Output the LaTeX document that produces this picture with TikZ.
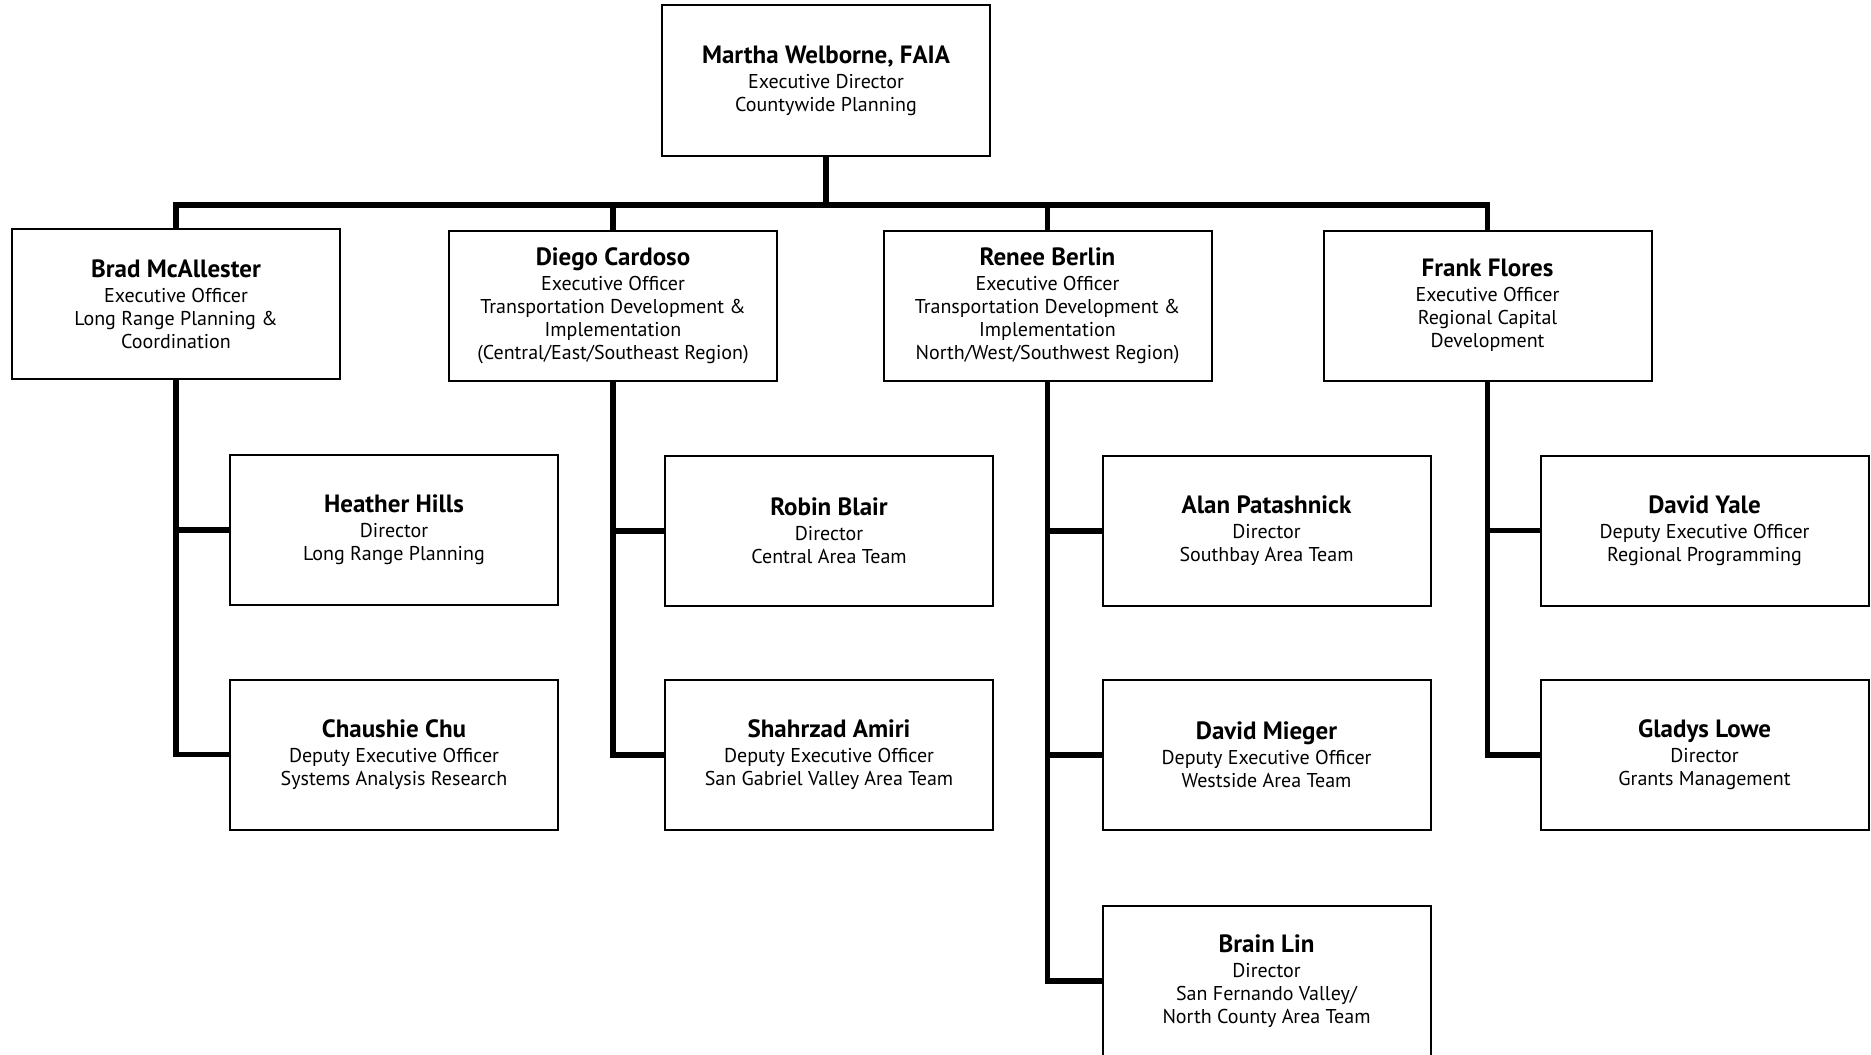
\documentclass[tikz,border=0pt]{standalone}
\usepackage{fontspec}
\setmainfont{PT Sans}
\begin{document}
\begin{tikzpicture}[x=0.5pt,y=-0.5pt,
  box/.style={draw, line width=1pt, minimum width=164pt, minimum height=75pt,
    align=center, inner sep=0pt, font=\fontsize{10}{11.5}\selectfont},
  link/.style={line width=2.8pt}]
\useasboundingbox (0,0) rectangle (1871,1054);
\clip (0,0) rectangle (1871,1054);
\newcommand\pname[1]{{\fontsize{12.5}{14}\selectfont\bfseries #1}\\[1pt]}

% head of department
\node[box] (top) at (826,80.5) {\pname{Martha Welborne, FAIA}Executive Director\\Countywide Planning};

% executive officers
\node[box] (brad)  at (176,304)    {\pname{Brad McAllester}Executive Officer\\Long Range Planning \&\\Coordination};
\node[box] (diego) at (613,305.5)  {\pname{Diego Cardoso}Executive Officer\\Transportation Development \&\\Implementation\\(Central/East/Southeast Region)};
\node[box] (renee) at (1047.5,306) {\pname{Renee Berlin}Executive Officer\\Transportation Development \&\\Implementation\\North/West/Southwest Region)};
\node[box] (frank) at (1487.5,305.5) {\pname{Frank Flores}Executive Officer\\Regional Capital\\Development};

% teams
\node[box] (heather)  at (394,530)    {\pname{Heather Hills}Director\\Long Range Planning};
\node[box] (chaushie) at (394,754.5)  {\pname{Chaushie Chu}Deputy Executive Officer\\Systems Analysis Research};
\node[box] (robin)    at (829,531)    {\pname{Robin Blair}Director\\Central Area Team};
\node[box] (shahrzad) at (829,755)    {\pname{Shahrzad Amiri}Deputy Executive Officer\\San Gabriel Valley Area Team};
\node[box] (alan)     at (1266.5,531) {\pname{Alan Patashnick}Director\\Southbay Area Team};
\node[box] (mieger)   at (1266.5,755) {\pname{David Mieger}Deputy Executive Officer\\Westside Area Team};
\node[box] (lin)      at (1266.5,981) {\pname{Brain Lin}Director\\San Fernando Valley/\\North County Area Team};
\node[box] (yale)     at (1704.5,530.5) {\pname{David Yale}Deputy Executive Officer\\Regional Programming};
\node[box] (gladys)   at (1704.5,755) {\pname{Gladys Lowe}Director\\Grants Management};

% reporting lines
\coordinate (bus) at (826,205);
\draw[link] (top.south) -- (top.south |- bus);
\draw[link] (brad.north) -- (brad.north |- bus) -- (frank.north |- bus) -- (frank.north);
\draw[link] (diego.north |- bus) -- (diego.north);
\draw[link] (renee.north |- bus) -- (renee.north);

\draw[link] (brad.south) |- (chaushie.west);
\draw[link] (brad.south |- heather.west) -- (heather.west);
\draw[link] (diego.south) |- (shahrzad.west);
\draw[link] (diego.south |- robin.west) -- (robin.west);
\draw[link] (renee.south) |- (lin.west);
\draw[link] (renee.south |- alan.west) -- (alan.west);
\draw[link] (renee.south |- mieger.west) -- (mieger.west);
\draw[link] (frank.south) |- (gladys.west);
\draw[link] (frank.south |- yale.west) -- (yale.west);
\end{tikzpicture}
\end{document}
